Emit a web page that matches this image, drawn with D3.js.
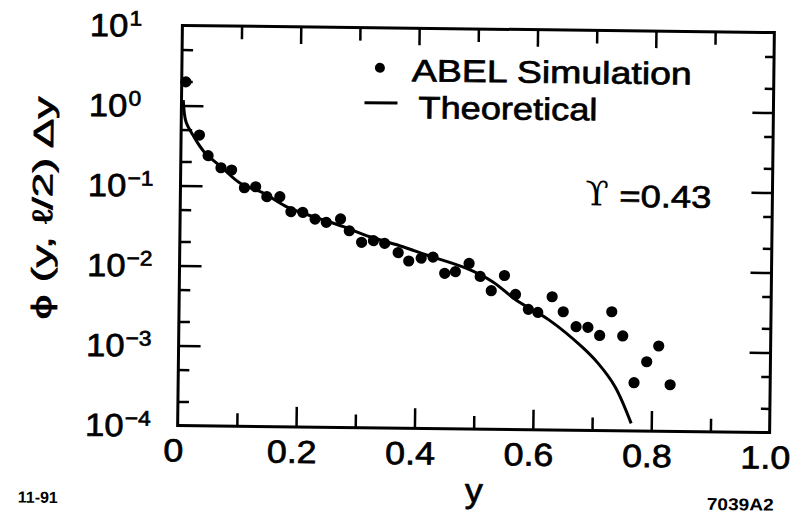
<!DOCTYPE html>
<html lang="en">
<head>
<meta charset="UTF-8">
<title>phi(y, l/2) dy vs y</title>
<script src="https://d3js.org/d3.v7.min.js"></script>
<style>
  body { margin: 0; background: #fff; }
  text { font-family: "Liberation Sans", Arial, Helvetica, sans-serif; fill: #000; }
  text.heavy { stroke: #000; stroke-width: 0.7px; }
</style>
</head>
<body>
<script>
// ABEL simulation points
const abelX = [0.007, 0.031, 0.046, 0.068, 0.086, 0.108, 0.127, 0.146, 0.168, 0.187,
               0.207, 0.228, 0.247, 0.271, 0.286, 0.307, 0.327, 0.346, 0.369, 0.387,
               0.408, 0.428, 0.448, 0.466, 0.489, 0.508, 0.527, 0.549, 0.568, 0.590,
               0.606, 0.630, 0.649, 0.671, 0.691, 0.711, 0.731, 0.750, 0.770, 0.791,
               0.811, 0.831];
const abelY = [1.98, 0.43, 0.238, 0.169, 0.159, 0.0958, 0.099, 0.0746, 0.075, 0.0489,
               0.0481, 0.0398, 0.0364, 0.0403, 0.0288, 0.0207, 0.0218, 0.0203, 0.0156, 0.0123,
               0.0134, 0.0139, 0.00873, 0.0092, 0.0117, 0.00808, 0.00538, 0.00837, 0.00487, 0.00319,
               0.00293, 0.00462, 0.00301, 0.00197, 0.00194, 0.00154, 0.00306, 0.00153, 0.0004, 0.000735,
               0.00116, 0.000382];

// theoretical curve, traced
const theoX = [0.003, 0.008, 0.020, 0.039, 0.068, 0.101, 0.141, 0.180, 0.225, 0.276,
               0.321, 0.377, 0.417, 0.484, 0.529, 0.569, 0.625, 0.681, 0.709, 0.738, 0.766];
const theoY = [1.17, 0.627, 0.429, 0.267, 0.174, 0.1087, 0.0822, 0.0562, 0.0427, 0.0323,
               0.0244, 0.0185, 0.0147, 0.0102, 0.00698, 0.00416, 0.00237, 0.00111, 0.00069, 0.000355, 0.000124];

const xMajor = [0.2, 0.4, 0.6, 0.8];
const xMinor = [0.1, 0.3, 0.5, 0.7, 0.9];
const xLabelVals = [0, 0.2, 0.4, 0.6, 0.8, 1.0];
const xLabels = ["0", "0.2", "0.4", "0.6", "0.8", "1.0"];
const yMajor = [1, 0.1, 0.01, 0.001];
const yMinor = [5, 2, 0.5, 0.2, 0.05, 0.02, 0.005, 0.002, 5e-4, 2e-4];
const yExponents = [1, 0, -1, -2, -3, -4];

const WIDTH = 803, HEIGHT = 521;
const pLeft = 180, pRight = 772, pTop = 29, pBottom = 429;
const TILT = 0.68; // the scan is turned a little

const x = d3.scaleLinear().domain([0, 1]).range([pLeft, pRight]);
const y = d3.scaleLog().domain([1e-4, 10]).range([pBottom, pTop]);

const svg = d3.select("body").append("svg").attr("width", WIDTH).attr("height", HEIGHT);
svg.append("rect").attr("width", WIDTH).attr("height", HEIGHT).attr("fill", "#fff");
const g = svg.append("g").attr("transform", `rotate(${TILT}, 476, 229)`);

function txt(parent, x0, y0, s, size, sx, anchor) {
    return parent.append("text").attr("class", "heavy")
        .attr("transform", `translate(${x0},${y0}) scale(${sx},1)`)
        .attr("font-size", size)
        .attr("text-anchor", anchor || "start")
        .text(s);
}

function ticks(axis, tx, ty) {
    g.append("g").attr("transform", `translate(${tx},${ty})`)
        .call(axis.tickFormat("").tickSizeOuter(0))
        .call(a => a.select(".domain").remove())
        .selectAll("line").attr("stroke", "#000").attr("stroke-width", 2.5);
}

// ticks, all pointing inwards
ticks(d3.axisBottom(x).tickValues(xMajor).tickSize(-20), 0, pBottom);
ticks(d3.axisBottom(x).tickValues(xMinor).tickSize(-13), 0, pBottom);
ticks(d3.axisTop(x).tickValues(xMajor).tickSize(-17), 0, pTop);
ticks(d3.axisTop(x).tickValues(xMinor).tickSize(-13), 0, pTop);
ticks(d3.axisLeft(y).tickValues(yMajor).tickSize(-22), pLeft, 0);
ticks(d3.axisLeft(y).tickValues(yMinor).tickSize(-11), pLeft, 0);
ticks(d3.axisRight(y).tickValues(yMajor).tickSize(-21), pRight, 0);
ticks(d3.axisRight(y).tickValues(yMinor).tickSize(-9), pRight, 0);

// frame
g.append("rect").attr("x", pLeft).attr("y", pTop)
    .attr("width", pRight - pLeft).attr("height", pBottom - pTop)
    .attr("fill", "none").attr("stroke", "#000").attr("stroke-width", 3);

// theory curve
const line = d3.line().x((d, i) => x(theoX[i])).y(d => y(d)).curve(d3.curveCatmullRom);
g.append("path").datum(theoY).attr("d", line)
    .attr("fill", "none").attr("stroke", "#000").attr("stroke-width", 3);

// simulation dots
g.selectAll(".dot").data(abelY).join("circle").attr("class", "dot")
    .attr("cx", (d, i) => x(abelX[i])).attr("cy", d => y(d)).attr("r", 5.6).attr("fill", "#000");

// x tick labels
xLabelVals.forEach((v, i) => txt(g, x(v) - 4, 465, xLabels[i], 32, 1.12, "middle"));

// y tick labels 10^n
yExponents.forEach(e => {
    const t = txt(g, 87.5, y(Math.pow(10, e)) + 11.5, "10", 32, 1.08, "start");
    t.append("tspan").attr("dx", 1).attr("dy", -11).attr("font-size", 21)
        .text(e < 0 ? "\u2212" + (-e) : String(e));
});

// axis titles
txt(g, 477, 502, "y", 34, 1.05, "middle");
g.append("text").attr("class", "heavy").attr("transform", "translate(52,213) rotate(-90)")
    .attr("font-size", 28).attr("text-anchor", "middle")
    .attr("textLength", 223).attr("lengthAdjust", "spacingAndGlyphs")
    .text("\u03D5 (y, \u2113/2) \u0394y");

// legend
g.append("circle").attr("cx", 378).attr("cy", 69).attr("r", 5).attr("fill", "#000");
g.append("text").attr("class", "heavy").attr("x", 410).attr("y", 82).attr("font-size", 31)
    .attr("textLength", 280).attr("lengthAdjust", "spacingAndGlyphs").text("ABEL Simulation");
g.append("line").attr("x1", 363).attr("x2", 396).attr("y1", 104).attr("y2", 104)
    .attr("stroke", "#000").attr("stroke-width", 3);
g.append("text").attr("class", "heavy").attr("x", 417).attr("y", 119).attr("font-size", 31)
    .attr("textLength", 179).attr("lengthAdjust", "spacingAndGlyphs").text("Theoretical");

// parameter
g.append("text").attr("x", 585).attr("y", 204).attr("font-size", 34)
    .style("font-family", "'DejaVu Serif', serif").text("\u03D2");
g.append("text").attr("class", "heavy").attr("x", 619).attr("y", 205).attr("font-size", 31)
    .attr("textLength", 92).attr("lengthAdjust", "spacingAndGlyphs").text("=0.43");

// figure codes
g.append("text").attr("x", 21).attr("y", 508).attr("font-size", 16)
    .attr("font-weight", "bold").text("11-91");
g.append("text").attr("x", 710).attr("y", 507).attr("font-size", 17)
    .attr("font-weight", "bold").attr("textLength", 67).attr("lengthAdjust", "spacingAndGlyphs").text("7039A2");
</script>
</body>
</html>
